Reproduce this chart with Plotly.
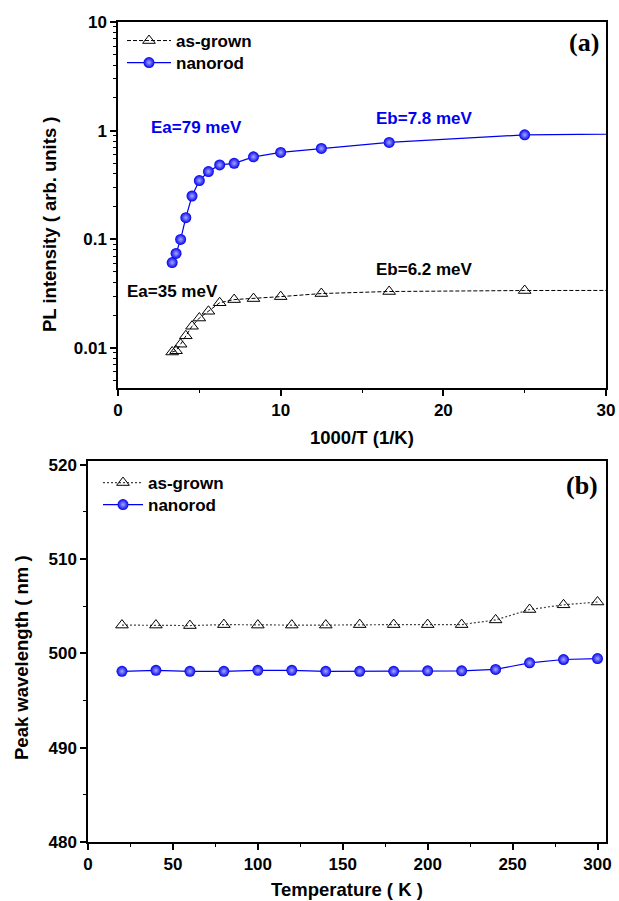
import plotly.graph_objects as go

# ---------------- data ----------------
# panel (a): 1000/T (1/K) for T = 300, 280, ..., 40, 20 K
inv_T = [3.33, 3.57, 3.85, 4.17, 4.55, 5.00, 5.56, 6.25, 7.14, 8.33, 10.0, 12.5, 16.67, 25.0, 50.0]
pl_asgrown = [0.00915, 0.0094, 0.0108, 0.0129, 0.0158, 0.0188, 0.0217, 0.026, 0.0278, 0.0284,
              0.0296, 0.0316, 0.033, 0.0337, 0.034]
pl_nanorod = [0.061, 0.074, 0.0995, 0.158, 0.25, 0.347, 0.42, 0.483, 0.50, 0.573,
              0.629, 0.685, 0.778, 0.914, 0.99]

# panel (b): temperature (K) vs peak wavelength (nm)
temps = [20, 40, 60, 80, 100, 120, 140, 160, 180, 200, 220, 240, 260, 280, 300]
wl_asgrown = [503.0, 503.0, 502.95, 503.05, 503.0, 503.0, 503.0, 503.05, 503.05, 503.05,
              503.05, 503.55, 504.65, 505.15, 505.45]
wl_nanorod = [498.1, 498.2, 498.1, 498.1, 498.2, 498.2, 498.1, 498.1, 498.1, 498.15,
              498.15, 498.3, 499.0, 499.35, 499.45]

series_names = ["as-grown", "nanorod"]
labels_a = ["Ea=79 meV", "Eb=7.8 meV", "Ea=35 meV", "Eb=6.2 meV"]

# ---------------- styling ----------------
W, H = 619, 901
FONT = "Liberation Sans, Arial, sans-serif"
SERIF = "Liberation Serif, Times New Roman, serif"
BLUE = "#0000F0"

def px_x(p):
    return p / W

def px_y(p):
    return 1 - p / H

tri = dict(symbol="triangle-up-open", size=11, color="black", line=dict(width=1, color="black"))
ball = dict(symbol="circle", size=11, color=BLUE, line=dict(width=0),
            gradient=dict(type="radial", color="#A8A8FF"))

fig = go.Figure()
fig.add_trace(go.Scatter(x=inv_T, y=pl_asgrown, mode="lines+markers", name=series_names[0],
                         line=dict(color="black", width=1, dash="4px,2px"), marker=tri,
                         xaxis="x", yaxis="y", legend="legend", showlegend=True))
fig.add_trace(go.Scatter(x=inv_T, y=pl_nanorod, mode="lines+markers", name=series_names[1],
                         line=dict(color=BLUE, width=1.2), marker=ball,
                         xaxis="x", yaxis="y", legend="legend3", showlegend=True))
fig.add_trace(go.Scatter(x=temps, y=wl_asgrown, mode="lines+markers", name=series_names[0],
                         line=dict(color="#444444", width=1.2, dash="2px,2px"), marker=tri,
                         xaxis="x2", yaxis="y2", legend="legend2", showlegend=True))
fig.add_trace(go.Scatter(x=temps, y=wl_nanorod, mode="lines+markers", name=series_names[1],
                         line=dict(color=BLUE, width=1.2), marker=ball,
                         xaxis="x2", yaxis="y2", legend="legend4", showlegend=True))

tickfont = dict(family=FONT, size=17, color="black", weight="bold")
common = dict(showline=True, mirror=True, linecolor="black", linewidth=1.5, showgrid=False,
              zeroline=False, ticks="outside", ticklen=6, tickwidth=1.5, tickcolor="black",
              tickfont=tickfont, automargin=False)

log_minor = [m * 10 ** e for e in (-3, -2, -1, 0) for m in range(2, 10)]
legfont = dict(family=FONT, size=17, color="black", weight="bold")

def leg(x, y, w):
    return dict(x=px_x(x), y=px_y(y), xanchor="left", yanchor="middle",
                bgcolor="rgba(0,0,0,0)", tracegroupgap=0, itemwidth=w, font=legfont,
                visible=True)

fig.update_layout(
    width=W, height=H, margin=dict(l=0, r=0, t=0, b=0, autoexpand=False),
    paper_bgcolor="white", plot_bgcolor="white", showlegend=True,
    xaxis=dict(domain=[px_x(118), px_x(606)], anchor="y", range=[0, 30],
               tickvals=[0, 10, 20, 30],
               minor=dict(ticks="outside", ticklen=3, tickwidth=1.2, tickcolor="black",
                          tickvals=[5, 15, 25]), **common),
    yaxis=dict(domain=[px_y(388), px_y(22)], anchor="x", type="log", range=[-2.37, 1],
               tickvals=[0.01, 0.1, 1, 10], ticktext=["0.01", "0.1", "1", "10"],
               minor=dict(ticks="outside", ticklen=3, tickwidth=1.2, tickcolor="black",
                          tickvals=log_minor), **common),
    xaxis2=dict(domain=[px_x(88), px_x(606)], anchor="y2", range=[0, 305],
                tickvals=[0, 50, 100, 150, 200, 250, 300],
                minor=dict(ticks="outside", ticklen=3, tickwidth=1.2, tickcolor="black",
                           tickvals=[25, 75, 125, 175, 225, 275]), **common),
    yaxis2=dict(domain=[px_y(842), px_y(461)], anchor="x2", range=[480, 520.4],
                tickvals=[480, 490, 500, 510, 520],
                minor=dict(ticks="outside", ticklen=3, tickwidth=1.2, tickcolor="black",
                           tickvals=[485, 495, 505, 515]), **common),
    legend=leg(122, 41, 44),
    legend3=leg(122, 63, 44),
    legend2=leg(98, 483, 40),
    legend4=leg(98, 505, 40),
)

titlefont = dict(family=FONT, size=18.5, color="black", weight="bold")

def paper_text(text, x, y, angle=0):
    return dict(text=text, x=px_x(x), y=px_y(y), xref="paper", yref="paper",
                xanchor="center", yanchor="middle", showarrow=False, textangle=angle,
                font=titlefont)

def data_text(text, x, y, xr, yr, font):
    return dict(text=text, x=x, y=y, xref=xr, yref=yr, xanchor="center", yanchor="middle",
                showarrow=False, font=font)

lab_blue = dict(family=FONT, size=17, color=BLUE, weight="bold")
lab_black = dict(family=FONT, size=17, color="black", weight="bold")
panel_font = dict(family=SERIF, size=26, color="black", weight="bold")

ann = [
    paper_text("1000/T (1/K)", 362, 437),
    paper_text("PL intensity ( arb. units )", 50, 224, -90),
    paper_text("Temperature ( K )", 347, 889),
    paper_text("Peak wavelength ( nm )", 21, 658, -90),
    data_text("(a)", 28.65, 0.808, "x", "y", panel_font),
    data_text("(b)", 290.6, 517.8, "x2", "y2", panel_font),
    data_text(labels_a[0], 4.84, 0.032, "x", "y", lab_blue),
    data_text(labels_a[1], 18.82, 0.115, "x", "y", lab_blue),
    data_text(labels_a[2], 3.36, -1.482, "x", "y", lab_black),
    data_text(labels_a[3], 18.85, -1.279, "x", "y", lab_black),
]
fig.update_layout(annotations=ann)

fig.write_html("out.html", config={"displayModeBar": False},
               post_script="document.body.style.margin='0';")
